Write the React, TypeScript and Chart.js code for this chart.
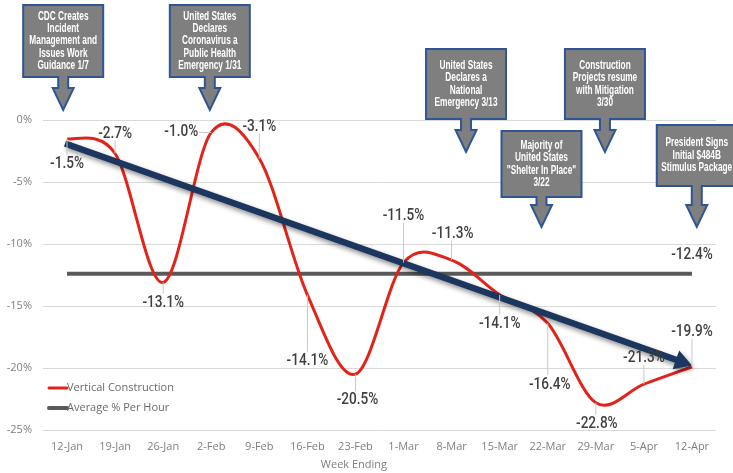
import React, { useEffect, useRef } from 'react';
import { Chart, registerables } from 'chart.js';

Chart.register(...registerables);

const weeks = ['12-Jan', '19-Jan', '26-Jan', '2-Feb', '9-Feb', '16-Feb', '23-Feb', '1-Mar', '8-Mar', '15-Mar', '22-Mar', '29-Mar', '5-Apr', '12-Apr'];
const verticalConstruction = [-1.5, -2.7, -13.1, -1.0, -3.1, -14.1, -20.5, -11.5, -11.3, -14.1, -16.4, -22.8, -21.3, -19.9];
const averagePerHour = [-12.4, -12.4, -12.4, -12.4, -12.4, -12.4, -12.4, -12.4, -12.4, -12.4, -12.4, -12.4, -12.4, -12.4];
const trendIndex = [0, 13];
const trendValues = [-1.9, -19.8];

const annotationTexts = [
  ['CDC Creates', 'Incident', 'Management and', 'Issues Work', 'Guidance 1/7'],
  ['United States', 'Declares', 'Coronavirus a', 'Public Health', 'Emergency 1/31'],
  ['United States', 'Declares a', 'National', 'Emergency 3/13'],
  ['Majority of', 'United States', '"Shelter In Place"', '3/22'],
  ['Construction', 'Projects resume', 'with Mitigation', '3/30'],
  ['President Signs', 'Initial $484B', 'Stimulus Package'],
];
// position along the category axis where each callout points
const annotationAt = [-0.08, 2.97, 8.3, 9.87, 11.19, 13.1];
// layout of the callouts (pixels)
const annotationGeom = [
  { top: 5, h: 72, tip: 110 },
  { top: 5, h: 72, tip: 110 },
  { top: 49, h: 70, tip: 152 },
  { top: 131, h: 66, tip: 227 },
  { top: 49, h: 70, tip: 152 },
  { top: 125, h: 61, tip: 227 },
];
// data label placement offsets (pixels)
const labelOffsets = [
  [0, 24], [0, -21], [0, 19], [-30, -2], [0, -33], [0, 65], [2, 25],
  [0, -48], [1, -27], [0, 28], [2, 60], [1, 20], [0, -27], [0, -36],
];
const avgLabelOffset = [0, -20];

const SANS = "'Liberation Sans', Arial, sans-serif";
const LABEL = "Roboto, 'Liberation Sans', sans-serif";
const REG = "'Open Sans', 'Liberation Sans', sans-serif";

const fmt = (v: number) => v.toFixed(1) + '%';

function fillCondensed(ctx: CanvasRenderingContext2D, text: string, x: number, y: number, sx: number) {
  ctx.save();
  ctx.translate(x, y);
  ctx.scale(sx, 1);
  ctx.fillText(text, 0, 0);
  ctx.restore();
}

const overlay = {
  id: 'overlay',
  beforeDatasetsDraw(chart: any) {
    // Excel-like smoothing (Catmull-Rom, 1/6 control points)
    const meta = chart.getDatasetMeta(0);
    const pts = meta.data as any[];
    const n = pts.length;
    for (let i = 0; i < n; i++) {
      const prev = pts[Math.max(i - 1, 0)];
      const next = pts[Math.min(i + 1, n - 1)];
      const dx = (next.x - prev.x) / 6;
      const dy = (next.y - prev.y) / 6;
      pts[i].cp1x = pts[i].x - dx;
      pts[i].cp1y = pts[i].y - dy;
      pts[i].cp2x = pts[i].x + dx;
      pts[i].cp2y = pts[i].y + dy;
    }
    if (meta.dataset) {
      (meta.dataset as any)._pointsUpdated = true;
      delete (meta.dataset as any)._path;
    }
  },
  afterDatasetsDraw(chart: any) {
    const { ctx, chartArea } = chart;
    const xs = chart.scales.x;
    const ys = chart.scales.y;

    // trend arrow
    const x0 = xs.getPixelForValue(trendIndex[0]) - 2;
    const y0 = ys.getPixelForValue(trendValues[0]);
    const x1 = xs.getPixelForValue(trendIndex[1]);
    const y1 = ys.getPixelForValue(trendValues[1]);
    const ang = Math.atan2(y1 - y0, x1 - x0);
    const c = Math.cos(ang), s = Math.sin(ang);
    const nx = -s, ny = c;
    const headLen = 17, headHalf = 10, half = 3.2;
    const bx = x1 - headLen * c, by = y1 - headLen * s;
    ctx.save();
    ctx.shadowColor = 'rgba(0,0,0,0.45)';
    ctx.shadowBlur = 5;
    ctx.shadowOffsetX = 2;
    ctx.shadowOffsetY = 3;
    ctx.beginPath();
    ctx.moveTo(x0 + nx * half, y0 + ny * half);
    ctx.lineTo(bx + nx * half, by + ny * half);
    ctx.lineTo(bx + nx * headHalf, by + ny * headHalf);
    ctx.lineTo(x1, y1);
    ctx.lineTo(bx - nx * headHalf, by - ny * headHalf);
    ctx.lineTo(bx - nx * half, by - ny * half);
    ctx.lineTo(x0 - nx * half, y0 - ny * half);
    ctx.closePath();
    ctx.fillStyle = '#1b365f';
    ctx.fill();
    ctx.restore();

    // data labels
    ctx.save();
    const LS = 0.8;
    ctx.font = '500 17px ' + LABEL;
    ctx.textAlign = 'center';
    ctx.textBaseline = 'middle';
    const meta = chart.getDatasetMeta(0);
    const drawLabel = (px: number, py: number, off: number[], text: string, leader: boolean) => {
      const cx = px + off[0];
      const cy = py + off[1];
      const w = ctx.measureText(text).width * LS;
      const l = cx - w / 2 - 1, r = cx + w / 2 + 1, t = cy - 8, b = cy + 8;
      if (leader) {
        const qx = Math.min(Math.max(px, l), r);
        const qy = Math.min(Math.max(py, t), b);
        const d = Math.hypot(qx - px, qy - py);
        if (d > 10) {
          ctx.beginPath();
          ctx.moveTo(qx, qy);
          ctx.lineTo(px, py);
          ctx.strokeStyle = '#c8c8c8';
          ctx.lineWidth = 1;
          ctx.stroke();
        }
      }
      ctx.fillStyle = '#3f3f3f';
      fillCondensed(ctx, text, cx, cy + 1, LS);
    };
    meta.data.forEach((p: any, i: number) => {
      drawLabel(p.x, p.y, labelOffsets[i], fmt(verticalConstruction[i]), true);
    });
    const am = chart.getDatasetMeta(1);
    const last = am.data[am.data.length - 1];
    drawLabel(last.x, last.y, avgLabelOffset, fmt(averagePerHour[averagePerHour.length - 1]), false);
    ctx.restore();

    // legend (inside plot)
    ctx.save();
    const lx = chartArea.left + 6;
    const items = [
      { y: chartArea.bottom - 42, ds: chart.data.datasets[0], w: 3 },
      { y: chartArea.bottom - 22, ds: chart.data.datasets[1], w: 4 },
    ];
    ctx.font = '11px ' + REG;
    ctx.textAlign = 'left';
    ctx.textBaseline = 'middle';
    items.forEach((it) => {
      ctx.beginPath();
      ctx.moveTo(lx, it.y);
      ctx.lineTo(lx + 18, it.y);
      ctx.strokeStyle = it.ds.borderColor;
      ctx.lineWidth = it.w;
      ctx.lineCap = 'round';
      ctx.stroke();
      ctx.fillStyle = '#6b6b6b';
      ctx.fillText(it.ds.label, lx + 18, it.y);
    });
    ctx.restore();

    // axis title
    ctx.save();
    ctx.font = '11px ' + REG;
    ctx.fillStyle = '#7f7f7f';
    ctx.textAlign = 'center';
    ctx.textBaseline = 'middle';
    ctx.fillText('Week Ending', chartArea.left + (chartArea.right - chartArea.left) * 0.462, chartArea.bottom + 35);
    ctx.restore();

    // callouts
    ctx.save();
    annotationTexts.forEach((lines, k) => {
      const g = annotationGeom[k];
      const cx = xs.getPixelForValue(annotationAt[k]);
      const w = 80;
      const stem = 5, head = 10.5, headLen = 22;
      const bot = g.top + g.h;
      const hb = g.tip - headLen;
      ctx.beginPath();
      ctx.moveTo(cx - w / 2, g.top);
      ctx.lineTo(cx + w / 2, g.top);
      ctx.lineTo(cx + w / 2, bot);
      ctx.lineTo(cx + stem, bot);
      ctx.lineTo(cx + stem, hb);
      ctx.lineTo(cx + head, hb);
      ctx.lineTo(cx, g.tip);
      ctx.lineTo(cx - head, hb);
      ctx.lineTo(cx - stem, hb);
      ctx.lineTo(cx - stem, bot);
      ctx.lineTo(cx - w / 2, bot);
      ctx.closePath();
      ctx.fillStyle = '#7f7f7f';
      ctx.fill();
      ctx.strokeStyle = '#2f5597';
      ctx.lineWidth = 2;
      ctx.lineJoin = 'miter';
      ctx.stroke();
      ctx.font = 'bold 12px ' + SANS;
      ctx.fillStyle = '#ffffff';
      ctx.textAlign = 'center';
      ctx.textBaseline = 'middle';
      const lh = 12.4;
      const start = g.top + g.h / 2 - ((lines.length - 1) * lh) / 2;
      lines.forEach((ln, j) => fillCondensed(ctx, ln, cx, start + j * lh, 0.69));
    });
    ctx.restore();
  },
};

export default function App() {
  const ref = useRef<HTMLCanvasElement>(null);
  useEffect(() => {
    const chart = new Chart(ref.current as HTMLCanvasElement, {
      type: 'line',
      data: {
        labels: weeks,
        datasets: [
          {
            label: 'Vertical Construction',
            data: verticalConstruction,
            borderColor: '#e2231a',
            borderWidth: 3,
            tension: 0.4,
            pointRadius: 0,
            fill: false,
          },
          {
            label: 'Average % Per Hour',
            data: averagePerHour,
            borderColor: '#595959',
            borderWidth: 4,
            tension: 0,
            pointRadius: 0,
            fill: false,
          },
        ],
      },
      options: {
        responsive: false,
        animation: false,
        events: [],
        layout: { padding: { top: 120, right: 17, left: 0, bottom: 0 } },
        plugins: { legend: { display: false }, tooltip: { enabled: false } },
        scales: {
          x: {
            offset: true,
            grid: { display: false, drawTicks: false },
            border: { display: false },
            ticks: { color: '#7f7f7f', font: { size: 11, family: REG }, padding: 10, maxRotation: 0, autoSkip: false },
            afterFit: (s: any) => { s.height = 43; },
          },
          y: {
            min: -25,
            max: 0,
            ticks: {
              stepSize: 5,
              color: '#7f7f7f',
              font: { size: 11, family: REG },
              padding: 11,
              callback: (v: any) => v + '%',
            },
            grid: { color: '#d9d9d9', drawTicks: false },
            border: { display: false },
            afterFit: (s: any) => { s.width = 43; },
          },
        },
      },
      plugins: [overlay],
    } as any);
    return () => chart.destroy();
  }, []);
  return (
    <div style={{ position: 'fixed', left: 0, top: 0, width: 733, height: 473, background: '#fff' }}>
      <canvas ref={ref} width={733} height={473} style={{ display: 'block' }} />
    </div>
  );
}
